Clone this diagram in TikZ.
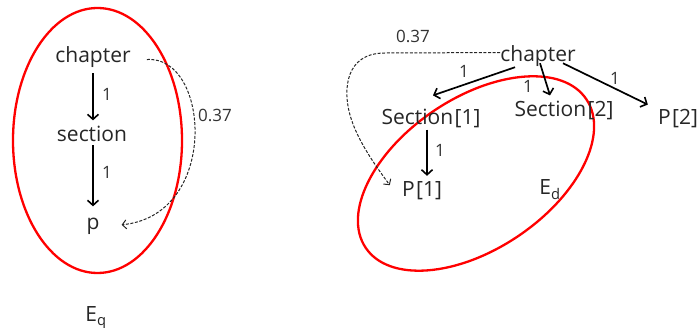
\documentclass[tikz,border=0pt]{standalone}
\usepackage{fontspec}
\setmainfont{Open Sans}
\usetikzlibrary{arrows.meta,calc}
\begin{document}
\begin{tikzpicture}[x=1pt,y=-1pt,
  term/.style={font=\fontsize{21}{24}\selectfont, inner sep=0pt, anchor=base, text=black!85},
  weight/.style={font=\fontsize{17}{20}\selectfont, inner sep=0pt, anchor=base, text=black!80},
  region/.style={draw=red, line width=2.3pt},
  link/.style={line width=1.7pt, -{Straight Barb[length=5pt,width=11pt,line width=1.6pt]}},
  sim/.style={line width=1pt, draw=black!85, dash pattern=on 3pt off 1.6pt, -{Straight Barb[length=4pt,width=9pt,line width=1pt]}}]
\useasboundingbox (0,0) rectangle (699,328);

% query tree E_q
\draw[region] (97.5,140.5) ellipse [x radius=84.5pt, y radius=132.5pt];
\node[term] (lch) at (93,63) {chapter};
\node[term] (lsec) at (92,142) {section};
\node[term] (lp) at (93,230) {p};
\node[term] (eq) at (96,322) {E\textsubscript{q}};
\draw[link] ($(lch.south)+(0,5)$) -- ($(lsec.north)+(1,-6)$);
\draw[link] ($(lsec.south)+(1,3)$) -- ($(lp.north)+(0,-12)$);
\node[weight] (w1) at (107,101) {1};
\node[weight] (w2) at (107,179) {1};
\draw[sim] ($(lch.east)+(16,2)$) .. controls (210,55) and (220,215) .. ($(lp.east)+(22,-2)$);
\node[weight] (w3) at (215,122) {0.37};

% document tree E_d
\draw[region, rotate around={34:(476,173.5)}] (476,173.5) ellipse [x radius=133pt, y radius=75.5pt];
\node[term] (rch) at (538,62) {chapter};
\node[term] (rs1) at (431,125) {Section\kern1.5pt[1]};
\node[term] (rs2) at (564,117) {Section\kern1.5pt[2]};
\node[term] (rp2) at (678,125) {P\kern1.5pt[2]};
\node[term] (rp1) at (422,197) {P\kern1.5pt[1]};
\node[term] (ed) at (550,195) {E\textsubscript{d}};
\draw[link] ($(rch.south)+(-23,0)$) -- ($(rs1.north)+(2,-14)$);
\draw[link] ($(rch.south)+(2,-4)$) -- ($(rs2.north)+(-14,-6)$);
\draw[link] ($(rch.south)+(25,-4)$) -- ($(rp2.north west)+(-10,-5)$);
\draw[link] ($(rs1.south)+(-4,1)$) -- ($(rp1.north)+(5,-6)$);
\node[weight] (w4) at (464,78) {1};
\node[weight] (w5) at (528,93) {1};
\node[weight] (w6) at (615,85) {1};
\node[weight] (w7) at (440,157) {1};
\draw[sim] ($(rch.west)+(0,-4)$) -- (385,53) .. controls (345,53) and (343,90) .. (350,115)
  .. controls (357,140) and (375,165) .. ($(rp1.west)+(-12,-6)$);
\node[weight] (w8) at (413,43) {0.37};
\end{tikzpicture}
\end{document}
